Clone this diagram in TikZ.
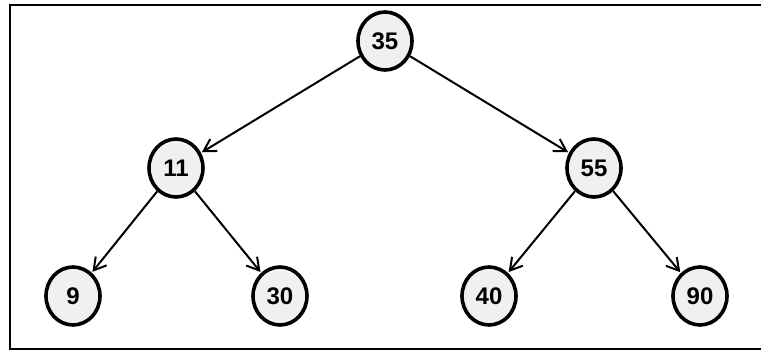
\documentclass[tikz,border=0pt]{standalone}
\usepackage{fontspec}
\setmainfont{Liberation Sans}
\usetikzlibrary{arrows.meta,shapes.geometric}
\begin{document}
\begin{tikzpicture}[x=1pt,y=-1pt,
  treenode/.style={ellipse,draw=black,line width=3.6pt,fill=black!6,minimum width=54pt,minimum height=58pt,inner sep=0pt,font=\fontsize{24}{26}\selectfont\bfseries},
  edge/.style={line width=2pt,-{Straight Barb[length=12pt,width=14pt,line width=2pt]},shorten >=1pt}]
\useasboundingbox (0,0) rectangle (761,352);
\draw[line width=2.8pt] (765,5) -- (10,5) -- (10,349) -- (765,349);
\node[treenode] (n35) at (385,41) {35};
\node[treenode] (n11) at (176,168) {11};
\node[treenode] (n55) at (594,168) {55};
\node[treenode] (n9) at (73,296) {9};
\node[treenode] (n30) at (280,296) {30};
\node[treenode] (n40) at (489,296) {40};
\node[treenode] (n90) at (700,296) {90};
\draw[edge] (n35) -- (n11);
\draw[edge] (n35) -- (n55);
\draw[edge] (n11) -- (n9);
\draw[edge] (n11) -- (n30);
\draw[edge] (n55) -- (n40);
\draw[edge] (n55) -- (n90);
\end{tikzpicture}
\end{document}
